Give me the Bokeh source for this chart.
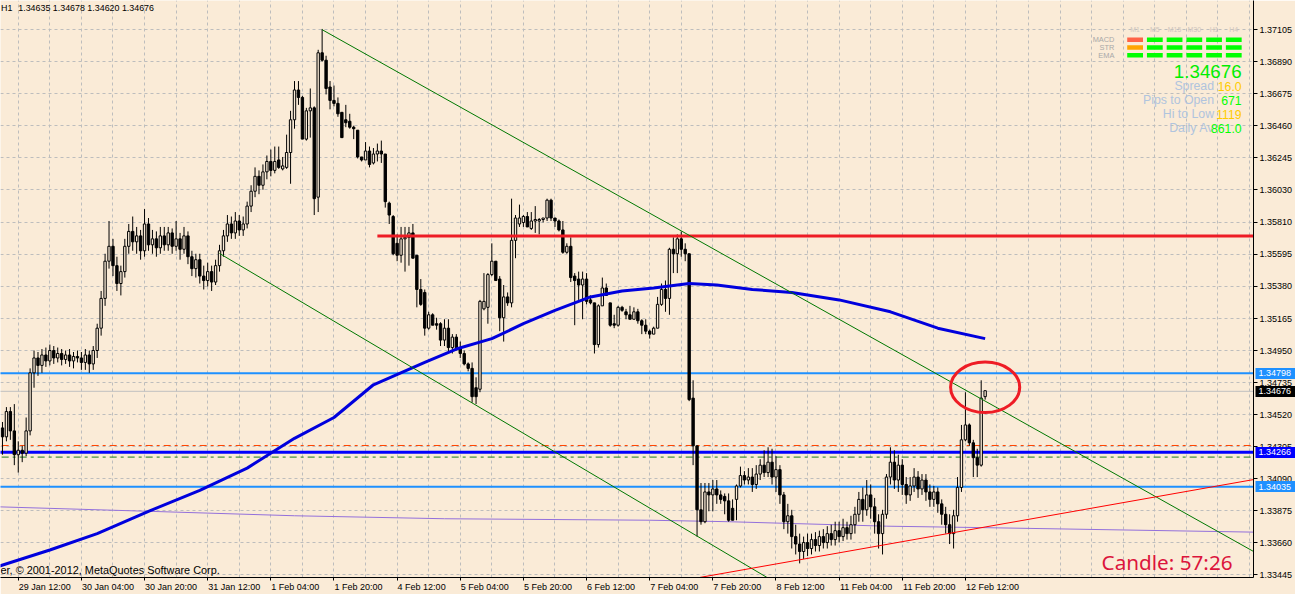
from bokeh.plotting import figure
from bokeh.models import FixedTicker, PrintfTickFormatter, Label, LinearAxis
from bokeh.embed import file_html
from bokeh.resources import INLINE

# ---------------- data (EURUSD H1, prices in pips: value / 10000) ----------------
first_bar = -4   # bar 0 = 29 Jan 12:00

opens = [
    13443, 13437, 13454, 13441, 13425, 13428, 13426, 13441, 13480, 13490,
    13485, 13492, 13488, 13495, 13490, 13493, 13489, 13492, 13488, 13491,
    13490, 13487, 13492, 13486, 13495, 13510, 13530, 13555, 13565, 13552,
    13540, 13548, 13565, 13575, 13568, 13572, 13562, 13580, 13566, 13570,
    13564, 13572, 13566, 13574, 13565, 13570, 13563, 13572, 13558, 13550,
    13556, 13545, 13542, 13548, 13541, 13552, 13562, 13572, 13580, 13574,
    13582, 13576, 13580, 13592, 13602, 13612, 13606, 13615, 13622, 13616,
    13623, 13617, 13618, 13628, 13650, 13670, 13665, 13637, 13656, 13658,
    13598, 13695, 13690, 13672, 13663, 13661, 13655, 13650, 13649, 13645,
    13643, 13625, 13623, 13629, 13621, 13627, 13629, 13627, 13594, 13585,
    13567, 13559, 13570, 13571, 13574, 13559, 13536, 13534, 13510, 13519,
    13513, 13513, 13502, 13510, 13497, 13504, 13497, 13493, 13486, 13483,
    13470, 13469, 13523, 13524, 13546, 13555, 13543, 13517, 13531, 13527,
    13569, 13580, 13581, 13585, 13577, 13582, 13582, 13583, 13584, 13596,
    13584, 13582, 13576, 13561, 13565, 13545, 13543, 13539, 13543, 13529,
    13527, 13499, 13525, 13537, 13527, 13513, 13512, 13524, 13521, 13519,
    13516, 13521, 13515, 13512, 13508, 13506, 13510, 13526, 13536, 13530,
    13563, 13560, 13570, 13563, 13560, 13463, 13431, 13388, 13380, 13400,
    13398, 13402, 13398, 13397, 13394, 13389, 13395, 13404, 13411, 13408,
    13410, 13405, 13412, 13418, 13413, 13420, 13410, 13415, 13398, 13380,
    13384, 13370, 13365, 13360, 13366, 13362, 13368, 13364, 13370, 13366,
    13372, 13368, 13374, 13370, 13376, 13372, 13378, 13385, 13395, 13388,
    13398, 13390, 13380, 13372, 13385, 13410, 13420, 13408, 13418, 13405,
    13398, 13404, 13410, 13402, 13408, 13400, 13395, 13400, 13392, 13385,
    13378, 13372, 13384, 13403, 13435, 13445, 13433, 13423, 13418, 13464,
]
highs = [
    13447, 13457, 13457, 13459, 13434, 13431, 13450, 13483, 13495, 13494,
    13496, 13497, 13499, 13498, 13497, 13496, 13495, 13496, 13494, 13495,
    13494, 13496, 13495, 13498, 13513, 13535, 13560, 13582, 13570, 13558,
    13552, 13570, 13580, 13585, 13578, 13576, 13590, 13584, 13576, 13575,
    13578, 13578, 13578, 13577, 13582, 13574, 13578, 13575, 13562, 13560,
    13560, 13552, 13554, 13552, 13556, 13566, 13576, 13586, 13585, 13588,
    13586, 13585, 13595, 13606, 13618, 13616, 13620, 13626, 13630, 13632,
    13632, 13625, 13640, 13656, 13676, 13676, 13666, 13658, 13671, 13659,
    13697, 13711, 13693, 13676, 13673, 13665, 13655, 13660, 13654, 13646,
    13643, 13625, 13635, 13632, 13631, 13634, 13636, 13627, 13595, 13586,
    13573, 13578, 13578, 13578, 13580, 13559, 13543, 13536, 13521, 13520,
    13517, 13514, 13516, 13516, 13506, 13506, 13501, 13495, 13487, 13487,
    13477, 13529, 13547, 13547, 13567, 13555, 13545, 13539, 13534, 13597,
    13586, 13593, 13586, 13588, 13588, 13592, 13584, 13584, 13597, 13597,
    13584, 13583, 13582, 13567, 13571, 13547, 13548, 13548, 13547, 13532,
    13527, 13526, 13544, 13540, 13527, 13519, 13525, 13525, 13523, 13525,
    13524, 13523, 13516, 13516, 13509, 13511, 13531, 13540, 13542, 13564,
    13571, 13573, 13575, 13567, 13560, 13475, 13431, 13406, 13406, 13406,
    13408, 13408, 13401, 13399, 13399, 13395, 13405, 13417, 13414, 13416,
    13416, 13418, 13422, 13428, 13430, 13429, 13424, 13418, 13400, 13392,
    13388, 13378, 13372, 13370, 13372, 13372, 13373, 13374, 13375, 13377,
    13378, 13380, 13380, 13382, 13380, 13384, 13390, 13400, 13403, 13408,
    13405, 13396, 13385, 13388, 13412, 13430, 13428, 13425, 13422, 13410,
    13410, 13416, 13414, 13412, 13412, 13405, 13404, 13403, 13395, 13390,
    13385, 13388, 13410, 13445, 13467, 13446, 13435, 13429, 13475, 13468,
]
lows = [
    13425, 13434, 13435, 13418, 13413, 13420, 13424, 13438, 13470, 13478,
    13480, 13484, 13485, 13486, 13487, 13485, 13486, 13484, 13483, 13487,
    13482, 13482, 13480, 13482, 13490, 13505, 13525, 13550, 13545, 13535,
    13532, 13544, 13560, 13562, 13560, 13556, 13558, 13562, 13560, 13558,
    13560, 13562, 13562, 13560, 13562, 13556, 13560, 13553, 13545, 13544,
    13540, 13536, 13538, 13535, 13539, 13548, 13558, 13568, 13570, 13570,
    13572, 13572, 13577, 13588, 13598, 13600, 13603, 13610, 13612, 13614,
    13617, 13616, 13617, 13607, 13644, 13660, 13637, 13636, 13638, 13586,
    13588, 13689, 13667, 13657, 13659, 13652, 13638, 13645, 13644, 13637,
    13624, 13622, 13623, 13618, 13620, 13622, 13621, 13591, 13580, 13559,
    13555, 13554, 13548, 13552, 13557, 13524, 13525, 13505, 13509, 13512,
    13509, 13498, 13498, 13494, 13493, 13495, 13490, 13485, 13481, 13460,
    13459, 13467, 13522, 13513, 13545, 13542, 13508, 13501, 13525, 13524,
    13557, 13578, 13578, 13578, 13576, 13574, 13573, 13581, 13582, 13582,
    13578, 13575, 13560, 13560, 13541, 13512, 13529, 13516, 13526, 13526,
    13493, 13497, 13525, 13532, 13511, 13510, 13511, 13521, 13516, 13516,
    13516, 13513, 13506, 13506, 13503, 13506, 13510, 13525, 13521, 13519,
    13547, 13547, 13558, 13555, 13461, 13418, 13370, 13378, 13379, 13387,
    13387, 13392, 13392, 13385, 13380, 13381, 13381, 13403, 13405, 13405,
    13400, 13402, 13408, 13410, 13410, 13405, 13400, 13392, 13375, 13372,
    13362, 13358, 13352, 13355, 13357, 13358, 13360, 13360, 13362, 13362,
    13364, 13364, 13366, 13367, 13368, 13368, 13372, 13380, 13380, 13384,
    13382, 13372, 13362, 13358, 13382, 13405, 13402, 13400, 13398, 13392,
    13394, 13400, 13396, 13398, 13394, 13390, 13390, 13386, 13378, 13372,
    13365, 13362, 13380, 13400, 13434, 13431, 13410, 13410, 13417, 13462,
]
closes = [
    13437, 13454, 13441, 13425, 13428, 13426, 13441, 13480, 13490, 13485,
    13492, 13488, 13495, 13490, 13493, 13489, 13492, 13488, 13491, 13490,
    13487, 13492, 13486, 13495, 13510, 13530, 13555, 13565, 13552, 13540,
    13548, 13565, 13575, 13568, 13572, 13562, 13580, 13566, 13570, 13564,
    13572, 13566, 13574, 13565, 13570, 13563, 13572, 13558, 13550, 13556,
    13545, 13542, 13548, 13541, 13552, 13562, 13572, 13580, 13574, 13582,
    13576, 13580, 13592, 13602, 13612, 13606, 13615, 13622, 13616, 13622,
    13618, 13619, 13628, 13650, 13670, 13665, 13637, 13656, 13658, 13597,
    13695, 13690, 13671, 13663, 13661, 13654, 13638, 13648, 13645, 13644,
    13625, 13623, 13629, 13620, 13627, 13629, 13627, 13595, 13586, 13560,
    13559, 13570, 13571, 13574, 13557, 13536, 13526, 13510, 13519, 13512,
    13512, 13502, 13510, 13497, 13504, 13497, 13493, 13486, 13483, 13464,
    13464, 13528, 13528, 13546, 13555, 13542, 13517, 13531, 13527, 13569,
    13584, 13584, 13585, 13578, 13582, 13583, 13583, 13584, 13596, 13584,
    13582, 13576, 13561, 13565, 13544, 13542, 13539, 13543, 13528, 13527,
    13499, 13525, 13537, 13532, 13512, 13512, 13524, 13522, 13519, 13516,
    13521, 13515, 13512, 13508, 13506, 13510, 13526, 13536, 13530, 13563,
    13560, 13570, 13563, 13560, 13462, 13431, 13388, 13380, 13400, 13398,
    13402, 13398, 13395, 13394, 13381, 13381, 13404, 13411, 13408, 13410,
    13405, 13412, 13418, 13413, 13420, 13410, 13415, 13398, 13380, 13384,
    13370, 13365, 13360, 13366, 13362, 13368, 13364, 13370, 13366, 13372,
    13368, 13374, 13370, 13376, 13372, 13378, 13385, 13395, 13388, 13398,
    13390, 13380, 13372, 13385, 13410, 13420, 13408, 13418, 13405, 13398,
    13404, 13410, 13402, 13408, 13400, 13395, 13400, 13392, 13385, 13378,
    13372, 13384, 13403, 13435, 13445, 13433, 13423, 13418, 13463, 13468,
]

time_labels = ["29 Jan 12:00", "30 Jan 04:00", "30 Jan 20:00", "31 Jan 12:00",
               "1 Feb 04:00", "1 Feb 20:00", "4 Feb 12:00", "5 Feb 04:00",
               "5 Feb 20:00", "6 Feb 12:00", "7 Feb 04:00", "7 Feb 20:00",
               "8 Feb 12:00", "11 Feb 04:00", "11 Feb 20:00", "12 Feb 12:00"]
time_tick_bars = [0, 16, 32, 48, 64, 80, 96, 112, 128, 144, 160, 176, 192, 208, 224, 240]

price_ticks = [1.37105, 1.36890, 1.36675, 1.36460, 1.36245, 1.36030, 1.35810, 1.35595,
               1.35380, 1.35165, 1.34950, 1.34735, 1.34520, 1.34305, 1.34090, 1.33875,
               1.33660, 1.33445]

# moving averages (bar, pips)
ema_bars = [-5, 8, 20, 33, 46, 58, 70, 80, 90, 103, 111, 120, 128, 136, 145, 153,
            161, 170, 177, 186, 196, 208, 221, 233, 245]
ema_pips = [13350, 13361, 13372, 13387, 13401, 13416, 13436, 13450, 13472, 13487, 13496,
            13503, 13513, 13522, 13531, 13535, 13537, 13540, 13539, 13536, 13534, 13529,
            13521, 13510, 13503]
slow_ma_bars = [-5, 33, 70, 108, 160, 180, 220, 245, 313]
slow_ma_pips = [13390, 13387, 13384, 13382, 13381, 13380, 13377, 13376, 13373]

# horizontal levels
resistance_level = 1.3572
resistance_from_bar = 91
band_high = 1.34798
band_low = 1.34035
pivot_level = 1.34266
bid_level = 1.34676
dash_high = 1.34312
dash_low = 1.34234

# trend lines: anchor bars and prices
chan_upper_bars = [77, 244]
chan_upper_prices = [1.37105, 1.34625]
chan_lower_bars = [51, 170]
chan_lower_prices = [1.35602, 1.33735]
support_bars = [170, 313]
support_prices = [1.33413, 1.34083]

ellipse_bar = 245
ellipse_price = 1.34703

header_symbol = "H1"
header_ohlc = "1.34635 1.34678 1.34620 1.34676"
copyright_text = "er, \u00a9 2001-2012, MetaQuotes Software Corp."
candle_timer = "Candle:  57:26"

panel_timeframes = ["M1", "M5", "M15", "M30", "H1", "H4"]
panel_rows = ["MACD", "STR", "EMA"]
panel_signals = [["#FF6347", "#00FF00", "#00FF00", "#00FF00", "#00FF00", "#00FF00"],
                 ["#FFA500", "#00FF00", "#00FF00", "#00FF00", "#00FF00", "#00FF00"],
                 ["#00FF00", "#00FF00", "#00FF00", "#00FF00", "#00FF00", "#00FF00"]]
panel_price = "1.34676"
info_names = ["Spread", "Pips to Open", "Hi to Low", "Daily Av"]
info_values = ["16.0", "671", "1119", "861.0"]
info_colors = ["#FFCC00", "#00FF00", "#FFCC00", "#00FF00"]

# ---------------- layout helpers ----------------
BG = "#FAEBD7"
FONT = "Liberation Sans"
W, H = 1295, 594
RIGHT_AX, BOTTOM_AX = 41, 17
REF_W, REF_H = 1270.0, 593.0          # reference frame size in px


def bx(xr):   # reference pixel x -> bar index
    return (xr - 18.0) / 4.0


def py(yr):   # reference pixel y -> price
    return 1.373011 - yr / 15300.0


n = min(len(opens), len(highs), len(lows), len(closes))
xs = [first_bar + k for k in range(n)]
o = [v / 1e4 for v in opens[:n]]
h = [v / 1e4 for v in highs[:n]]
l = [v / 1e4 for v in lows[:n]]
c = [v / 1e4 for v in closes[:n]]

x0, x1 = bx(0), bx(REF_W)
y0, y1 = py(REF_H), py(0)

p = figure(width=W, height=H, x_range=(x0, x1), y_range=(y0, y1),
           output_backend="svg", toolbar_location=None, y_axis_location="right",
           min_border_left=0, min_border_top=0, min_border_right=RIGHT_AX,
           min_border_bottom=BOTTOM_AX)
p.background_fill_color = BG
p.border_fill_color = BG
p.outline_line_color = None

frame_w = W - RIGHT_AX
scale = frame_w / REF_W
px_per_bar = frame_w / (x1 - x0)

# grid
p.xgrid.ticker = FixedTicker(ticks=list(range(-8, 320, 8)))
p.ygrid.ticker = FixedTicker(ticks=price_ticks)
for g in (p.xgrid[0], p.ygrid[0]):
    g.grid_line_color = "#BDBDBD"
    g.grid_line_dash = "3 3"
    g.grid_line_width = 1

# x axis: labels start at tick (MT4 style)
cw = {"J": .5, "a": .556, "n": .556, "F": .611, "e": .556, "b": .556, " ": .278, ":": .278}
centers = []
for t, lab in zip(time_tick_bars, time_labels):
    wpx = sum(cw.get(ch, .556) for ch in lab) * 9.0
    centers.append(round(t + (wpx / 2 + 0.5) / px_per_bar, 4))
xa = p.xaxis[0]
xa.ticker = FixedTicker(ticks=centers, minor_ticks=time_tick_bars)
xa.major_label_overrides = {cc: lab for cc, lab in zip(centers, time_labels)}
xa.major_tick_line_color = None
xa.major_tick_out = 3
xa.major_tick_in = 0
xa.minor_tick_out = 3
xa.minor_tick_in = 0
xa.minor_tick_line_color = "black"
xa.major_label_standoff = 1
xa.major_label_text_font = FONT
xa.major_label_text_font_size = "9px"
xa.major_label_text_color = "black"
xa.axis_line_color = "black"

# main price axis
ya = p.yaxis[0]
ya.ticker = FixedTicker(ticks=price_ticks)
ya.formatter = PrintfTickFormatter(format="%.5f")
ya.major_tick_out = 4
ya.major_tick_in = 0
ya.minor_tick_line_color = None
ya.major_label_standoff = 2
ya.major_label_text_font = FONT
ya.major_label_text_font_size = "9px"
ya.major_label_text_color = "black"
ya.axis_line_color = "black"

# marked price levels on the axis: zero-width extra axes, box = thick inward minor tick
for levels, box_color in [([band_high, band_low], "#1E90FF"), ([pivot_level], "#0000FF"),
                          ([bid_level], "black")]:
    ax = LinearAxis(ticker=FixedTicker(ticks=levels, minor_ticks=levels),
                    formatter=PrintfTickFormatter(format="%.5f"))
    ax.axis_line_color = None
    ax.major_tick_line_color = None
    ax.major_tick_in = 0
    ax.major_tick_out = 0
    ax.minor_tick_in = 40
    ax.minor_tick_out = 0
    ax.minor_tick_line_width = 11
    ax.minor_tick_line_color = box_color
    ax.major_label_standoff = -37
    ax.major_label_text_font = FONT
    ax.major_label_text_font_size = "9px"
    ax.major_label_text_color = "white"
    p.add_layout(ax, "right")

# horizontal levels (below candles)
p.segment(x0=[x0 - 5], x1=[x1 + 5], y0=[bid_level], y1=[bid_level], line_color="#C0C0C0", line_width=1)
p.segment(x0=[x0 - 5] * 2, x1=[x1 + 5] * 2, y0=[band_high, band_low], y1=[band_high, band_low],
          line_color="#1E90FF", line_width=2)
p.segment(x0=[x0 + 0.3], x1=[x1 + 5], y0=[dash_high], y1=[dash_high], line_color="#FF4500",
          line_width=1, line_dash="7 4 3 4")
p.segment(x0=[x0 + 0.3], x1=[x1 + 5], y0=[dash_low], y1=[dash_low], line_color="#1E7D1E",
          line_width=1, line_dash="7 4 3 4")
p.segment(x0=[x0 - 5], x1=[x1 + 5], y0=[pivot_level], y1=[pivot_level], line_color="#0000FF", line_width=3)

# slow MA
p.line(slow_ma_bars, [v / 1e4 for v in slow_ma_pips], line_color="#9370DB", line_width=1)

# candles
p.segment(x0=xs, y0=l, x1=xs, y1=h, line_color="black", line_width=1)
tops = [max(a, b) for a, b in zip(o, c)]
bots = [min(a, b) for a, b in zip(o, c)]
fills = ["black" if cc < oo else BG for oo, cc in zip(o, c)]
p.vbar(x=xs, width=0.6, top=tops, bottom=bots, fill_color=fills, line_color="black", line_width=1)

# EMA
p.line(ema_bars, [v / 1e4 for v in ema_pips], line_color="#0000DD", line_width=3)

# resistance
p.segment(x0=[resistance_from_bar], x1=[x1 + 5], y0=[resistance_level], y1=[resistance_level],
          line_color="#EE1C25", line_width=3)


def extend(bars, prices, x_end):
    s = (prices[1] - prices[0]) / (bars[1] - bars[0])
    return [bars[0], x_end], [prices[0], prices[0] + s * (x_end - bars[0])]


ux, uy = extend(chan_upper_bars, chan_upper_prices, x1)
lx, ly = extend(chan_lower_bars, chan_lower_prices, 210)
p.line(ux, uy, line_color="#007800", line_width=1)
p.line(lx, ly, line_color="#007800", line_width=1)
p.line(support_bars, support_prices, line_color="#FF0000", line_width=1)

p.ellipse(x=[ellipse_bar], y=[ellipse_price], width=70 * scale, height=51 * scale,
          width_units="screen", height_units="screen", fill_color=None,
          line_color="#EE1C25", line_width=3)


def txt(xr, yr, text, size, color, align="left", font=FONT):
    p.add_layout(Label(x=bx(xr), y=py(yr), text=text, text_font=font,
                       text_font_size=f"{size * scale:.1f}px", text_color=color,
                       text_align=align, text_baseline="middle"))


txt(0.5, 8, header_symbol, 9, "black")
txt(18, 8, header_ohlc, 9, "black")
txt(0, 585, copyright_text, 11, "black")
txt(1116, 577, candle_timer, 21, "#DC143C", font="Noto Sans")

# indicator panel
col_left = [1142, 1162, 1182, 1202, 1222, 1242]
row_top = [38, 46, 54]
qL, qR, qT, qB, qC = [], [], [], [], []
for ri, rt in enumerate(row_top):
    for ci, cl in enumerate(col_left):
        qL.append(bx(cl)); qR.append(bx(cl + 16))
        qT.append(py(rt)); qB.append(py(rt + 4.6))
        qC.append(panel_signals[ri][ci])
p.quad(left=qL, right=qR, top=qT, bottom=qB, fill_color=qC, line_color=None)
for cl, tf in zip(col_left, panel_timeframes):
    txt(cl + 8, 30, tf, 7, "#CFC6BE", align="center")
for rt, name in zip(row_top, panel_rows):
    txt(1129, rt + 2.3, name, 7.5, "#A8A8A8", align="right")
txt(1258, 73, panel_price, 19, "#00EE00", align="right")
for k, (nm, val, col) in enumerate(zip(info_names, info_values, info_colors)):
    yy = 88 + k * 14.5
    txt(1230, yy, nm, 12.5, "#B0C4DE", align="right")
    txt(1258, yy, val, 12.5, col, align="right")

open("out.html", "w").write(file_html(p, INLINE))
